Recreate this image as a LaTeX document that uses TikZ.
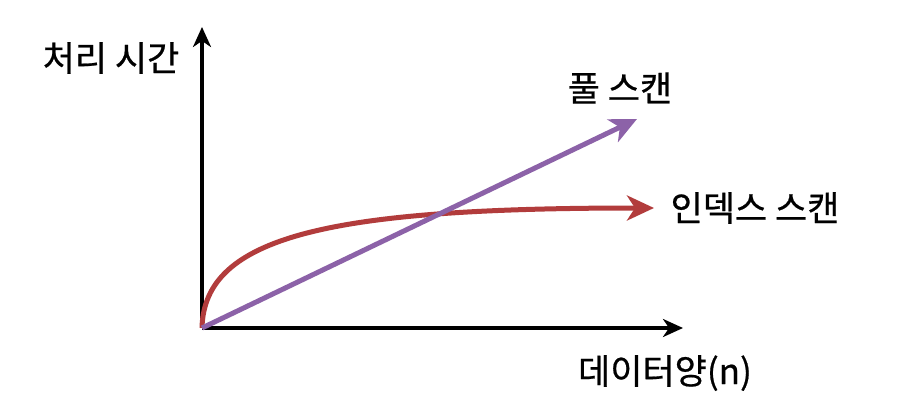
\documentclass[tikz,border=0pt]{standalone}
\usepackage{fontspec}
\setmainfont{Noto Sans CJK KR}[FakeBold=0.6]
\usetikzlibrary{arrows.meta}
\definecolor{fullc}{RGB}{140,98,168}
\definecolor{idxc}{RGB}{178,60,60}
\tikzset{
  axis/.style={line width=3.2pt, -{Stealth[length=20pt,width=18pt,inset=6pt]}},
  curve/.style={line width=5pt, -{Stealth[length=27pt,width=25pt,inset=8pt]}},
  lbl/.style={font=\fontsize{35}{40}\selectfont, inner sep=0pt}
}
\begin{document}
\begin{tikzpicture}[x=1pt,y=-1pt]
\useasboundingbox[fill=white] (0,0) rectangle (908,420);
\coordinate (o) at (202,328);
\coordinate (ytop) at (202,27);
\coordinate (xend) at (683,328);
\coordinate (fend) at (637,119);
\coordinate (iend) at (654,208);
\draw[axis] (o) -- (ytop);
\draw[axis] (o) -- (xend);
\draw[curve, idxc] (o) .. controls (204,236) and (330,208) .. (iend);
\draw[curve, fullc] (o) -- (fend);
\node[lbl] (ylab) at (111,58) {처리 시간};
\node[lbl] (flab) at (620,88) {풀 스캔};
\node[lbl] (ilab) at (755,208) {인덱스 스캔};
\node[lbl] (xlab) at (665,373) {데이터양(n)};
\end{tikzpicture}
\end{document}
